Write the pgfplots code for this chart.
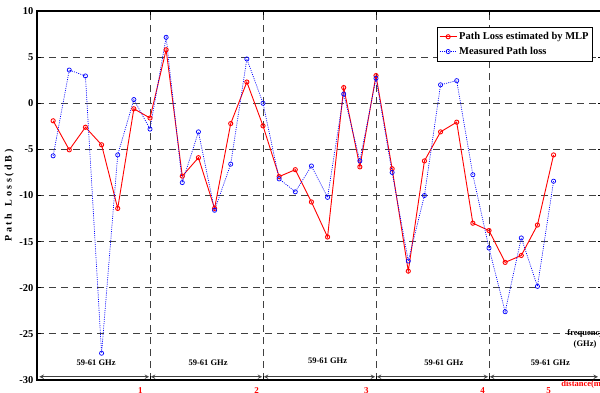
\documentclass[border=0pt]{standalone}
\usepackage{fontspec}
\setmainfont{Liberation Serif}
\usepackage{pgfplots}
\pgfplotsset{compat=1.18}
\newcommand{\ls}{\hspace{2.6pt}}
\begin{document}
\begin{tikzpicture}
\begin{axis}[
  scale only axis, width=565pt, height=369pt,
  at={(0,0)}, anchor=south west,
  xmin=0, xmax=35, ymin=-30, ymax=10,
  clip=false,
  xtick={7,14,21,28}, xticklabels={},
  ytick={-30,-25,-20,-15,-10,-5,0,5,10},
  yticklabels={-30,-25,-20,-15,-10,-5,0,5,10},
  yticklabel style={font=\fontsize{10.5}{12}\selectfont\bfseries},
  tick align=inside, major tick length=4pt,
  tick style={line width=0.9pt, black},
  xmajorgrids, ymajorgrids,
  grid style={dash pattern=on 7pt off 5pt, line width=0.9pt, black!75},
  axis line style={line width=1.6pt},
  ylabel={P\ls a\ls t\ls h\ls\ \ls L\ls o\ls s\ls s\ls (\ls d\ls B\ls )},
  ylabel style={at={(axis description cs:-0.049,0.5)}, anchor=center, font=\fontsize{10}{12}\selectfont\bfseries},
  legend style={at={(1,1)}, anchor=north east, xshift=-9pt, yshift=-16pt,
    draw=black, line width=0.7pt, fill=white,
    font=\fontsize{10.5}{12}\selectfont\bfseries, inner xsep=2pt, inner ysep=3pt, row sep=2pt,
    cells={anchor=west}},
]
\addplot[red, line width=0.9pt, mark=o, mark size=2.1pt] coordinates {
(1,-1.9) (2,-5.05) (3,-2.6) (4,-4.5) (5,-11.4) (6,-0.6) (7,-1.6)
(8,5.8) (9,-7.9) (10,-5.9) (11,-11.4) (12,-2.2) (13,2.3) (14,-2.45)
(15,-7.95) (16,-7.2) (17,-10.7) (18,-14.5) (19,1.7) (20,-6.9) (21,3.0)
(22,-7.1) (23,-18.2) (24,-6.25) (25,-3.1) (26,-2.05) (27,-13.0) (28,-13.8)
(29,-17.25) (30,-16.5) (31,-13.2) (32,-5.6)
};
\addlegendentry{Path Loss estimated by MLP}
\addplot[blue, line width=0.7pt, dash pattern=on 1pt off 1.2pt, mark=o, mark size=2.1pt, mark options={solid}] coordinates {
(1,-5.7) (2,3.6) (3,2.96) (4,-27.1) (5,-5.6) (6,0.4) (7,-2.8)
(8,7.15) (9,-8.6) (10,-3.1) (11,-11.6) (12,-6.6) (13,4.8) (14,0.0)
(15,-8.2) (16,-9.6) (17,-6.8) (18,-10.2) (19,1.0) (20,-6.25) (21,2.7)
(22,-7.5) (23,-17.1) (24,-10.0) (25,2.0) (26,2.45) (27,-7.75) (28,-15.7)
(29,-22.6) (30,-14.6) (31,-19.85) (32,-8.45)
};
\addlegendentry{Measured Path loss}
% segment arrows
\draw[<->, >=stealth, line width=1pt, black!75] (axis cs:0.15,-29.65) -- (axis cs:6.95,-29.65);
\draw[<->, >=stealth, line width=1pt, black!75] (axis cs:7.05,-29.65) -- (axis cs:13.95,-29.65);
\draw[<->, >=stealth, line width=1pt, black!75] (axis cs:14.05,-29.65) -- (axis cs:20.95,-29.65);
\draw[<->, >=stealth, line width=1pt, black!75] (axis cs:21.05,-29.65) -- (axis cs:27.95,-29.65);
\draw[<->, >=stealth, line width=1pt, black!75] (axis cs:28.05,-29.65) -- (axis cs:34.75,-29.65);
% band labels
\node[font=\fontsize{8.5}{10}\selectfont\bfseries] at (axis cs:3.66,-28.1) {59-61 GHz};
\node[font=\fontsize{8.5}{10}\selectfont\bfseries] at (axis cs:10.6,-28.1) {59-61 GHz};
\node[font=\fontsize{8.5}{10}\selectfont\bfseries] at (axis cs:18.0,-27.9) {59-61 GHz};
\node[font=\fontsize{8.5}{10}\selectfont\bfseries] at (axis cs:25.2,-28.1) {59-61 GHz};
\node[font=\fontsize{8.5}{10}\selectfont\bfseries] at (axis cs:31.8,-28.1) {59-61 GHz};
\node[anchor=west, inner sep=0pt, font=\fontsize{8.5}{10}\selectfont\bfseries] at (axis cs:32.85,-24.95) {frequency};
\node[font=\fontsize{8.5}{10}\selectfont\bfseries] at (axis cs:33.95,-26.2) {(GHz)};
% distance labels
\node[red, anchor=north, inner sep=0pt, font=\fontsize{9}{10}\selectfont\bfseries] at (axis cs:6.4,-30.75) {1};
\node[red, anchor=north, inner sep=0pt, font=\fontsize{9}{10}\selectfont\bfseries] at (axis cs:13.6,-30.75) {2};
\node[red, anchor=north, inner sep=0pt, font=\fontsize{9}{10}\selectfont\bfseries] at (axis cs:20.4,-30.75) {3};
\node[red, anchor=north, inner sep=0pt, font=\fontsize{9}{10}\selectfont\bfseries] at (axis cs:27.6,-30.75) {4};
\node[red, anchor=north, inner sep=0pt, font=\fontsize{9}{10}\selectfont\bfseries] at (axis cs:31.7,-30.75) {5};
\node[red, anchor=west, inner sep=0pt, font=\fontsize{8.5}{10}\selectfont\bfseries] at (axis cs:32.47,-30.5) {distance(m)};
\end{axis}
\pgfresetboundingbox
\path[use as bounding box] (-37pt,-12pt) rectangle (563pt,380pt);
\end{tikzpicture}
\end{document}
